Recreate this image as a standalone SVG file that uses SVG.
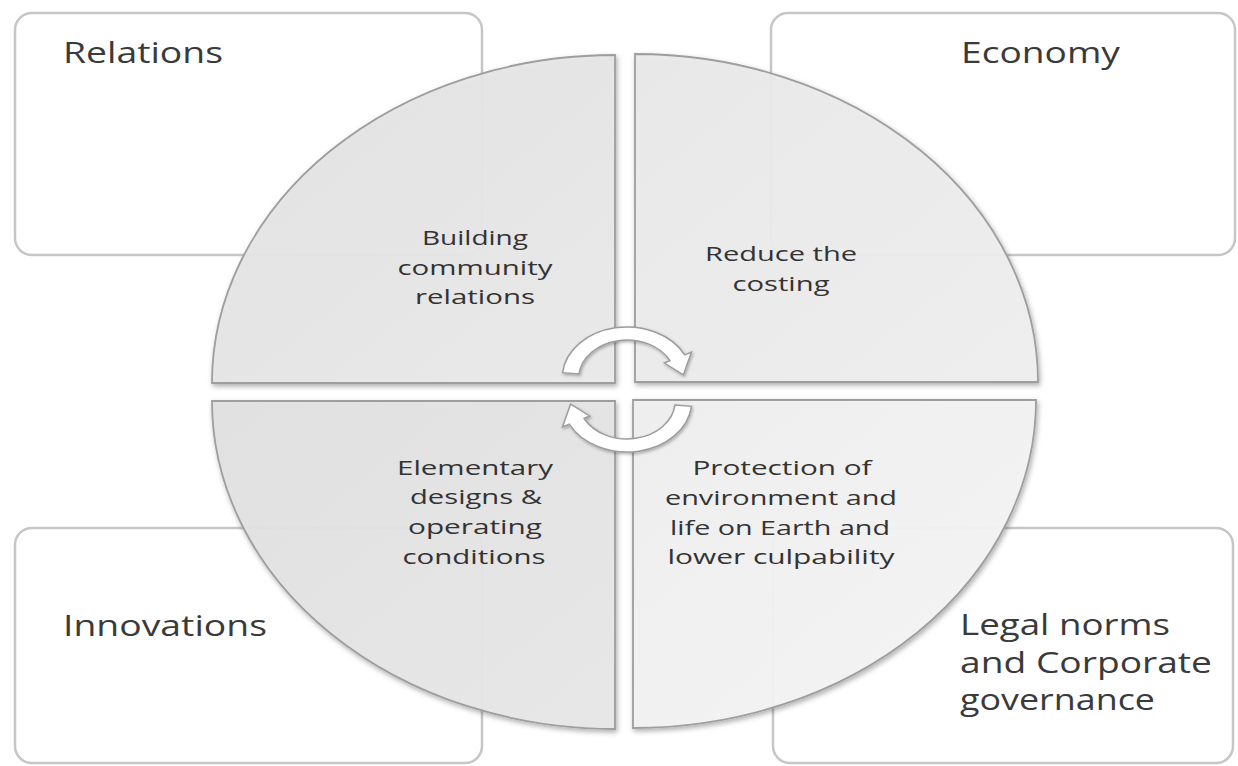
<svg xmlns="http://www.w3.org/2000/svg" width="1238" height="766" viewBox="0 0 1238 766">
  <style>
    .box { fill: #ffffff; stroke: #c6c6c6; stroke-width: 2.5; }
    .quad { stroke: #9e9e9e; stroke-width: 1.8; filter: url(#shadow); }
    .lbl { font-family: "Open Sans", "Liberation Sans", sans-serif; font-size: 29px; fill: #3a3a3a; }
    .qt { font-family: "Open Sans", "Liberation Sans", sans-serif; font-size: 20px; fill: #333333; text-anchor: middle; }
    .arrow { fill: #ffffff; stroke: #9c9c9c; stroke-width: 1.5; }
  </style>
  <defs>
    <filter id="shadow" x="-10%" y="-10%" width="120%" height="120%">
      <feDropShadow dx="1.5" dy="2.5" stdDeviation="2.5" flood-color="#000000" flood-opacity="0.32"/>
    </filter>
    <filter id="ashadow" x="-20%" y="-20%" width="140%" height="140%">
      <feDropShadow dx="1" dy="1.5" stdDeviation="1.5" flood-color="#000000" flood-opacity="0.3"/>
    </filter>
    <linearGradient id="gTL" x1="0" y1="0" x2="1" y2="1">
      <stop offset="0" stop-color="#e2e2e2"/>
      <stop offset="1" stop-color="#eaeaea"/>
    </linearGradient>
    <linearGradient id="gTR" x1="0" y1="0" x2="1" y2="1">
      <stop offset="0" stop-color="#e9e9e9"/>
      <stop offset="1" stop-color="#efefef"/>
    </linearGradient>
    <linearGradient id="gBL" x1="0" y1="0" x2="1" y2="1">
      <stop offset="0" stop-color="#e1e1e1"/>
      <stop offset="1" stop-color="#e8e8e8"/>
    </linearGradient>
    <linearGradient id="gBR" x1="0" y1="0" x2="1" y2="1">
      <stop offset="0" stop-color="#efefef"/>
      <stop offset="1" stop-color="#f6f6f6"/>
    </linearGradient>
    <path id="circArrow" class="arrow" vector-effect="non-scaling-stroke"
      d="M -50.72 -5.33 A 51 51 0 0 1 45.44 -23.15 L 50.79 -25.88 L 44.39 -3.10 L 29.40 -14.98 L 33.86 -17.25 A 38 38 0 0 0 -37.79 -3.97 Z"/>
  </defs>

  <rect width="1238" height="766" fill="#ffffff"/>

  <g id="box-relations">
    <rect class="box" x="15" y="13" width="467" height="242" rx="17"/>
    <text class="lbl" x="63" y="63" textLength="160" lengthAdjust="spacingAndGlyphs">Relations</text>
  </g>
  <g id="box-economy">
    <rect class="box" x="771" y="13" width="464" height="242" rx="17"/>
    <text class="lbl" x="961" y="63" textLength="159" lengthAdjust="spacingAndGlyphs">Economy</text>
  </g>
  <g id="box-innovations">
    <rect class="box" x="15" y="528" width="467" height="235" rx="17"/>
    <text class="lbl" x="63" y="636" textLength="204" lengthAdjust="spacingAndGlyphs">Innovations</text>
  </g>
  <g id="box-legal">
    <rect class="box" x="773" y="528" width="460" height="235" rx="17"/>
    <text class="lbl" x="960" y="635" textLength="210" lengthAdjust="spacingAndGlyphs">Legal norms</text>
    <text class="lbl" x="960" y="673" textLength="252" lengthAdjust="spacingAndGlyphs">and Corporate</text>
    <text class="lbl" x="960" y="710" textLength="195" lengthAdjust="spacingAndGlyphs">governance</text>
  </g>

  <g id="quadrant-tl">
    <path class="quad" fill="url(#gTL)" fill-opacity="0.95" d="M615,383 L212,383 A403,328 0 0 1 615,55 Z"/>
    <text class="qt" x="475" y="245" textLength="106" lengthAdjust="spacingAndGlyphs">Building</text>
    <text class="qt" x="475" y="275" textLength="155" lengthAdjust="spacingAndGlyphs">community</text>
    <text class="qt" x="475" y="304" textLength="120" lengthAdjust="spacingAndGlyphs">relations</text>
  </g>
  <g id="quadrant-tr">
    <path class="quad" fill="url(#gTR)" fill-opacity="0.95" d="M635,382 L635,54 A403,328 0 0 1 1038,382 Z"/>
    <text class="qt" x="781" y="261" textLength="152" lengthAdjust="spacingAndGlyphs">Reduce the</text>
    <text class="qt" x="781" y="291" textLength="97" lengthAdjust="spacingAndGlyphs">costing</text>
  </g>
  <g id="quadrant-bl">
    <path class="quad" fill="url(#gBL)" fill-opacity="0.95" d="M615,401 L615,729 A403,328 0 0 1 212,401 Z"/>
    <text class="qt" x="475" y="475" textLength="156" lengthAdjust="spacingAndGlyphs">Elementary</text>
    <text class="qt" x="476" y="504" textLength="132" lengthAdjust="spacingAndGlyphs">designs &amp;</text>
    <text class="qt" x="475" y="534" textLength="134" lengthAdjust="spacingAndGlyphs">operating</text>
    <text class="qt" x="474" y="564" textLength="143" lengthAdjust="spacingAndGlyphs">conditions</text>
  </g>
  <g id="quadrant-br">
    <path class="quad" fill="url(#gBR)" fill-opacity="0.95" d="M633,400 L1036,400 A403,328 0 0 1 633,728 Z"/>
    <text class="qt" x="782" y="475" textLength="179" lengthAdjust="spacingAndGlyphs">Protection of</text>
    <text class="qt" x="781" y="505" textLength="232" lengthAdjust="spacingAndGlyphs">environment and</text>
    <text class="qt" x="780" y="535" textLength="220" lengthAdjust="spacingAndGlyphs">life on Earth and</text>
    <text class="qt" x="781" y="564" textLength="227" lengthAdjust="spacingAndGlyphs">lower culpability</text>
  </g>

  <g id="connectors" filter="url(#ashadow)">
    <use href="#circArrow" transform="translate(627,378) scale(1.27,1)"/>
    <use href="#circArrow" transform="rotate(180 627 389.5) translate(627,378) scale(1.27,1)"/>
  </g>
</svg>
